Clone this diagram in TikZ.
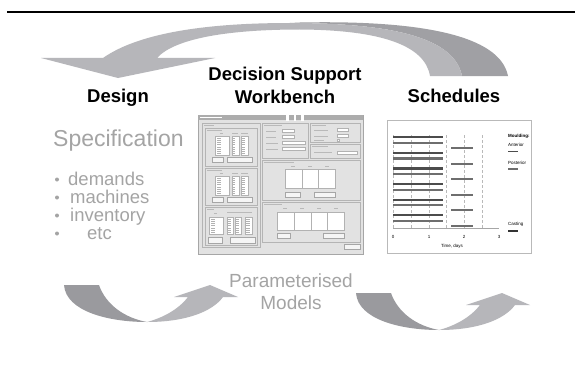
\documentclass[tikz,border=0pt]{standalone}
\usepackage{fontspec}
\setmainfont{Liberation Sans}
\definecolor{arrlight}{HTML}{B6B6BA}
\definecolor{arrdark}{HTML}{9A9A9E}
\definecolor{arrband}{HTML}{A0A0A4}
\definecolor{txtgray}{HTML}{A4A4A4}
\definecolor{winbg}{HTML}{E2E2E2}
\definecolor{frameline}{HTML}{B4B4B4}
\definecolor{barA}{HTML}{4C4C4C}
\definecolor{barB}{HTML}{6E6E6E}
\tikzset{
  headtext/.style={font=\fontsize{18.5}{21}\selectfont\bfseries, text=black, inner sep=0pt, anchor=base},
  graytext/.style={text=txtgray, inner sep=0pt, anchor=base},
  grouprect/.style={draw=frameline, line width=0.5pt},
  field/.style={fill=white, draw=gray!60, line width=0.4pt},
  button/.style={fill=gray!8, draw=gray!70, line width=0.4pt},
  label/.style={draw=gray!55, line width=0.8pt},
  gridln/.style={draw=gray!55, line width=0.4pt, densely dashed},
  barstyle/.style={line width=2.2pt},
  tinytext/.style={font=\fontsize{4.5}{5}\selectfont, inner sep=0pt},
  uparrow/.pic={
    \fill[arrdark] (0,0) -- (35,0) .. controls (42,20) and (61,33) .. (83,37)
        .. controls (46,37) and (2,27) .. cycle;
    \fill[arrlight] (83,37) .. controls (121,37) and (148,27) .. (159,12) -- (174,12) -- (146,0)
        -- (110,12) -- (124,12) .. controls (114,25) and (98,33) .. (83,37) -- cycle;
  }
}
\begin{document}
\begin{tikzpicture}[x=1pt,y=-1pt]
\useasboundingbox (0,0) rectangle (575,369);
\fill[white] (0,0) rectangle (575,369);

% top rule
\draw[line width=2pt] (7,12.5) -- (575,12.5);

% big top arrow
\fill[arrband] (300,22.5) .. controls (420,20) and (500,35) .. (508,76) -- (462,76)
   .. controls (455,40) and (400,23) .. (290,23) -- cycle;
\fill[arrlight] (41,58) -- (103,58) .. controls (140,32) and (210,23) .. (290,23)
   .. controls (400,23) and (455,40) .. (462,76) -- (430,76)
   .. controls (425,45) and (380,30) .. (300,29.5)
   .. controls (230,29.5) and (175,38) .. (157,58) -- (215,58) -- (118,78) -- cycle;

% headings
\node[headtext] (design) at (118,102) {Design};
\node[headtext] (dss1) at (285,80) {Decision Support};
\node[headtext] (dss2) at (285,103.5) {Workbench};
\node[headtext] (sched) at (454,102) {Schedules};

% specification
\node[graytext, anchor=base west, font=\fontsize{23}{26}\selectfont] (spec) at (53,146) {Specification};
\foreach \t/\xx/\yy [count=\i] in {demands/68/185, machines/70/203, inventory/70/221, etc/87/239}{
  \node[graytext, anchor=base west, font=\fontsize{18.5}{21}\selectfont] (item\i) at (\xx,\yy) {\t};
  \fill[txtgray] (57,\yy-5.5) circle (2);
}

% parameterised models
\node[graytext, font=\fontsize{19}{22}\selectfont] (pm1) at (291,287) {Parameterised};
\node[graytext, font=\fontsize{19}{22}\selectfont] (pm2) at (291,309) {Models};

% bottom arrows
\pic at (64,285) {uparrow};
\pic at (356,293) {uparrow};

% ---------- screenshot ----------
\fill[winbg] (198,115) rectangle (363,254);
\draw[gray!70, line width=0.6pt] (198,115) rectangle (363,254);
\fill[gray!65] (198,115) rectangle (363,119.5);
\draw[white, line width=0.6pt] (200,117.3) -- (222,117.3);
\foreach \xx in {286,293.5,301}{ \fill[white] (\xx,113) rectangle (\xx+2.5,121); }
% left big group
\draw[grouprect] (202,123) rectangle (260,247);
\draw[label] (204,125.5) -- (214,125.5);
\foreach \yy/\hh in {128/38, 168/37}{
  \draw[grouprect] (205,\yy) rectangle (257,\yy+\hh);
  \draw[label] (207,\yy+2.5) -- (222,\yy+2.5);
  \draw[label] (220,\yy+5.5) -- (223,\yy+5.5);
  \draw[label] (232,\yy+5.5) -- (238,\yy+5.5);
  \draw[label] (241,\yy+5.5) -- (248,\yy+5.5);
  \draw[field] (215,\yy+8) rectangle (229,\yy+27);
  \draw[field] (232,\yy+8) rectangle (239,\yy+27);
  \draw[field] (241,\yy+8) rectangle (248,\yy+27);
  \foreach \k in {0,...,7}{ \draw[gray!60, line width=0.5pt] (217,\yy+10+2.2*\k) -- (221,\yy+10+2.2*\k);
     \draw[gray!60, line width=0.5pt] (233,\yy+10+2.2*\k) -- (235,\yy+10+2.2*\k);
     \draw[gray!60, line width=0.5pt] (242,\yy+10+2.2*\k) -- (245,\yy+10+2.2*\k);}
  \draw[button] (212,\yy+29) rectangle (223,\yy+34);
  \draw[button] (227,\yy+29) rectangle (252,\yy+34);
}
\draw[grouprect] (205,207) rectangle (257,245);
\draw[label] (207,209.5) -- (214,209.5);
\draw[label] (214,213.5) -- (217,213.5);
\draw[label] (227,212) -- (252,212);
\draw[field] (209,217) rectangle (223,234);
\draw[field] (227,217) rectangle (233,234);
\draw[field] (235,217) rectangle (241,234);
\draw[field] (245,217) rectangle (252,234);
\foreach \k in {0,...,6}{ \draw[gray!60, line width=0.5pt] (211,219+2.2*\k) -- (215,219+2.2*\k);
   \draw[gray!60, line width=0.5pt] (228,219+2.2*\k) -- (231,219+2.2*\k);
   \draw[gray!60, line width=0.5pt] (236,219+2.2*\k) -- (239,219+2.2*\k);
   \draw[gray!60, line width=0.5pt] (246,219+2.2*\k) -- (250,219+2.2*\k);}
\draw[button] (208,237) rectangle (222,243);
\draw[button] (230,237) rectangle (255,243);
% right groups
\draw[grouprect] (262,123) rectangle (308,158);
\draw[label] (264,125.5) -- (282,125.5);
\foreach \yy in {129,135}{ \draw[label] (266,\yy+2) -- (276,\yy+2); \draw[field] (282,\yy) rectangle (294,\yy+3.5); }
\foreach \yy in {141,147}{ \draw[label] (266,\yy+2) -- (278,\yy+2); \draw[field] (282,\yy) rectangle (305,\yy+3.5); }
\draw[grouprect] (310,123) rectangle (360,142);
\draw[label] (312,125.5) -- (326,125.5);
\foreach \yy in {128,134}{ \draw[label] (314,\yy+2) -- (328,\yy+2); \draw[field] (337,\yy) rectangle (348,\yy+3.5); }
\draw[label] (314,140) -- (324,140); \draw[field] (337,138.8) rectangle (339,140.8);
\draw[grouprect] (310,144) rectangle (360,158);
\draw[label] (312,146.5) -- (328,146.5);
\draw[label] (314,152.5) -- (332,152.5); \draw[field] (337,151) rectangle (357,154.5);
\draw[grouprect] (262,160) rectangle (360,200);
\draw[label] (264,162.5) -- (294,162.5);
\foreach \xx in {293,310,327}{ \draw[label] (\xx-2,166) -- (\xx+2,166); }
\draw[field] (285,169) rectangle (335,188);
\draw[gray!60, line width=0.4pt] (302,169) -- (302,188) (318,169) -- (318,188);
\draw[button] (285,192) rectangle (300,197);
\draw[button] (314,192) rectangle (335,197);
\draw[grouprect] (262,202) rectangle (360,242);
\draw[label] (264,204.5) -- (282,204.5);
\foreach \xx in {285,302,319,336}{ \draw[label] (\xx-2,208.5) -- (\xx+2,208.5); }
\draw[field] (277,212) rectangle (344,230);
\draw[gray!60, line width=0.4pt] (294,212) -- (294,230) (311,212) -- (311,230) (327,212) -- (327,230);
\draw[button] (277,233) rectangle (290,238);
\draw[button] (323,233) rectangle (344,238);
\draw[button] (344,244) rectangle (360,249);

% ---------- schedule chart ----------
\draw[fill=white, draw=gray!55, line width=0.6pt] (387,120) rectangle (531,253);
\foreach \xx in {393,411,429,446,464,482}{ \draw[gridln] (\xx,135) -- (\xx,228); }
\draw[gray!70, line width=0.5pt] (393,228) -- (499,228);
\foreach \k in {0,...,5}{
  \draw[barstyle, barA] (393,137.3+15.6*\k) -- (443,137.3+15.6*\k);
  \draw[barstyle, barB] (393,142.8+15.6*\k) -- (443,142.8+15.6*\k);
  \draw[barstyle, barB] (451,148.3+15.5*\k) -- (473,148.3+15.5*\k);
}
\node[tinytext] (t0) at (393,237) {0};
\node[tinytext] (t1) at (429,237) {1};
\node[tinytext] (t2) at (464,237) {2};
\node[tinytext] (t3) at (499,237) {3};
\node[tinytext] (tlab) at (452,246) {Time, days};
\node[tinytext, anchor=west, font=\fontsize{4.5}{5}\selectfont\bfseries] (lm) at (508,136) {Moulding:};
\node[tinytext, anchor=west] (la) at (508,145) {Anterior};
\draw[barA, line width=1.5pt] (508,151.5) -- (518,151.5);
\node[tinytext, anchor=west] (lp) at (508,162.5) {Posterior};
\draw[barB, line width=1.5pt] (508,169) -- (518,169);
\node[tinytext, anchor=west] (lc) at (508,224) {Casting};
\draw[black!80, line width=1.5pt] (508,231) -- (518,231);
\end{tikzpicture}
\end{document}
